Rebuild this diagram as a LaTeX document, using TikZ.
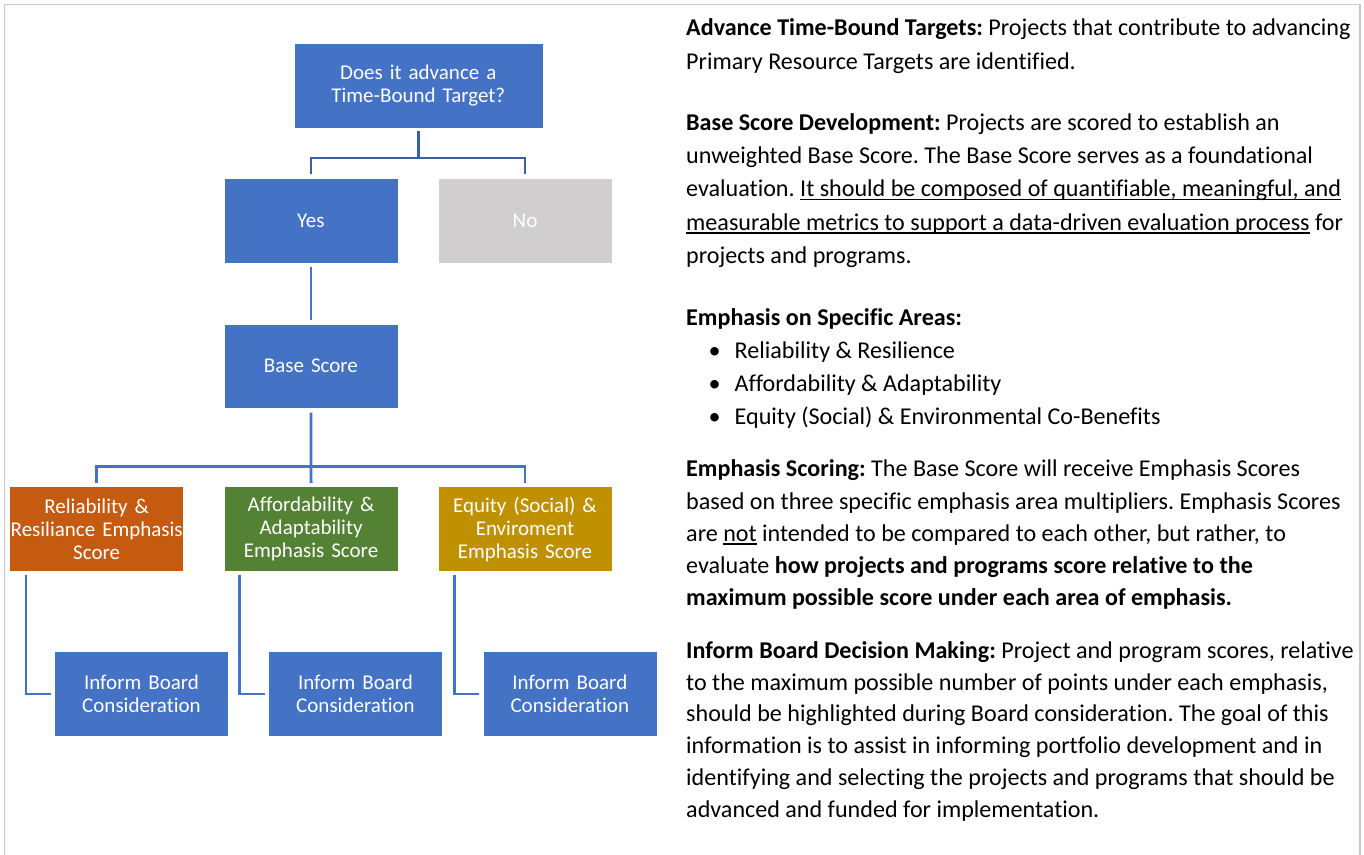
\documentclass[tikz,border=0pt]{standalone}
\usepackage{fontspec}
\setmainfont{Carlito}[Ligatures=NoCommon]
\usetikzlibrary{calc}
\definecolor{boxblue}{HTML}{4472C4}
\definecolor{boxgrey}{HTML}{D0CECE}
\definecolor{boxorange}{HTML}{C55A11}
\definecolor{boxgreen}{HTML}{548235}
\definecolor{boxgold}{HTML}{BF9000}
\definecolor{linedark}{HTML}{3B5EA8}
\definecolor{linelight}{HTML}{4472C4}
\definecolor{framegrey}{HTML}{C8C8C8}
\newcommand\myul[1]{\setbox0=\hbox{#1}\rlap{\rule[-3.3pt]{\wd0}{1.4pt}}\box0\relax}
\frenchspacing
\tikzset{
  sbox/.style={rectangle, draw=white, line width=0.6pt, inner sep=0pt,
    minimum width=174pt, minimum height=85pt, text width=174pt, align=center,
    text=white, font=\fontsize{21}{23}\selectfont},
  connA/.style={draw=linedark, line width=2.6pt},
  connB/.style={draw=linelight, line width=2.8pt},
  tl/.style={anchor=base west, inner sep=0pt, font=\fontsize{24.1}{28}\selectfont, text=black},
  framel/.style={draw=framegrey, line width=1.4pt}
}
\begin{document}
\begin{tikzpicture}[x=1pt,y=-1pt]
\useasboundingbox (0,0) rectangle (1364,854);
\fill[white] (0,0) rectangle (1364,854);
\draw[framel] (4.5,856) -- (4.5,4.5) -- (1360,4.5) -- (1360,856);

% boxes
\node[sbox, fill=boxblue, minimum width=249pt, text width=249pt] (q) at (418.3,86) {Does it advance a\\Time-Bound Target?};
\node[sbox, fill=boxblue] (yes) at (310.9,220.5) {Yes};
\node[sbox, fill=boxgrey] (no) at (525,220.5) {No};
\node[sbox, fill=boxblue, minimum height=84pt] (base) at (310.9,366.2) {Base Score};
\node[sbox, fill=boxorange] (rel) at (96.7,529.2) {Reliability \&\\Resiliance Emphasis\\Score};
\node[sbox, fill=boxgreen] (aff) at (311.1,529.2) {Affordability \&\\Adaptability\\Emphasis Score};
\node[sbox, fill=boxgold] (eq) at (525,529.2) {Equity (Social) \&\\Enviroment\\Emphasis Score};
\node[sbox, fill=boxblue] (inf1) at (141.5,694) {Inform Board\\Consideration};
\node[sbox, fill=boxblue] (inf2) at (355.5,694) {Inform Board\\Consideration};
\node[sbox, fill=boxblue] (inf3) at (569.8,694) {Inform Board\\Consideration};

% connectors
\coordinate (j1) at ($(q.south)+(0,29)$);
\draw[connA] ($(q.south)+(0,2.5)$) -- (j1);
\draw[connA] ($(yes.north)+(0,-4)$) |- (j1) -| ($(no.north)+(0,-4)$);
\draw[connB] ($(yes.south)+(0,4)$) -- ($(base.north)+(0,-4)$);
\coordinate (j2) at ($(base.south)+(0,57.7)$);
\draw[connB] ($(base.south)+(0,4)$) -- ($(aff.north)+(0,-3.5)$);
\draw[connB] ($(rel.north)+(0,-3.5)$) |- (j2) -| ($(eq.north)+(0,-3.5)$);
\draw[connB] ($(rel.south west)+(16.5,3)$) |- ($(inf1.west)+(-3.4,0)$);
\draw[connB] ($(aff.south west)+(16,3)$) |- ($(inf2.west)+(-3.4,0)$);
\draw[connB] ($(eq.south west)+(16.5,3)$) |- ($(inf3.west)+(-3.4,0)$);

% right text
\node[tl] (a1) at (686,35) {\textbf{Advance Time-Bound Targets:} Projects that contribute to advancing};
\node[tl] (a2) at (686,69) {Primary Resource Targets are identified.};

\node[tl] (b1) at (686,130) {\textbf{Base Score Development:} Projects are scored to establish an};
\node[tl] (b2) at (686,163.3) {unweighted Base Score. The Base Score serves as a foundational};
\node[tl] (b3) at (686,196.8) {evaluation. \myul{It should be composed of quantifiable, meaningful, and}};
\node[tl] (b4) at (686,230.3) {\myul{measurable metrics to support a data-driven evaluation process} for};
\node[tl] (b5) at (686,263.5) {projects and programs.};

\node[tl] (c0) at (686,325.8) {\textbf{Emphasis on Specific Areas:}};
\node[tl] (c1d) at (708.5,358.8) {\textbullet};
\node[tl] (c1) at (734.5,358.8) {Reliability \& Resilience};
\node[tl] (c2d) at (708.5,391.5) {\textbullet};
\node[tl] (c2) at (734.5,391.5) {Affordability \& Adaptability};
\node[tl] (c3d) at (708.5,424.2) {\textbullet};
\node[tl] (c3) at (734.5,424.2) {Equity (Social) \& Environmental Co-Benefits};

\node[tl] (d1) at (686,476.7) {\textbf{Emphasis Scoring:} The Base Score will receive Emphasis Scores};
\node[tl] (d2) at (686,509) {based on three specific emphasis area multipliers. Emphasis Scores};
\node[tl] (d3) at (686,541.5) {are \myul{not} intended to be compared to each other, but rather, to};
\node[tl] (d4) at (686,573.3) {evaluate \textbf{how projects and programs score relative to the}};
\node[tl] (d5) at (686,605) {\textbf{maximum possible score under each area of emphasis.}};

\node[tl] (e1) at (686,658.5) {\textbf{Inform Board Decision Making:} Project and program scores, relative};
\node[tl] (e2) at (686,690.3) {to the maximum possible number of points under each emphasis,};
\node[tl] (e3) at (686,721.8) {should be highlighted during Board consideration. The goal of this};
\node[tl] (e4) at (686,753.8) {information is to assist in informing portfolio development and in};
\node[tl] (e5) at (686,785.8) {identifying and selecting the projects and programs that should be};
\node[tl] (e6) at (686,817) {advanced and funded for implementation.};
\end{tikzpicture}
\end{document}
